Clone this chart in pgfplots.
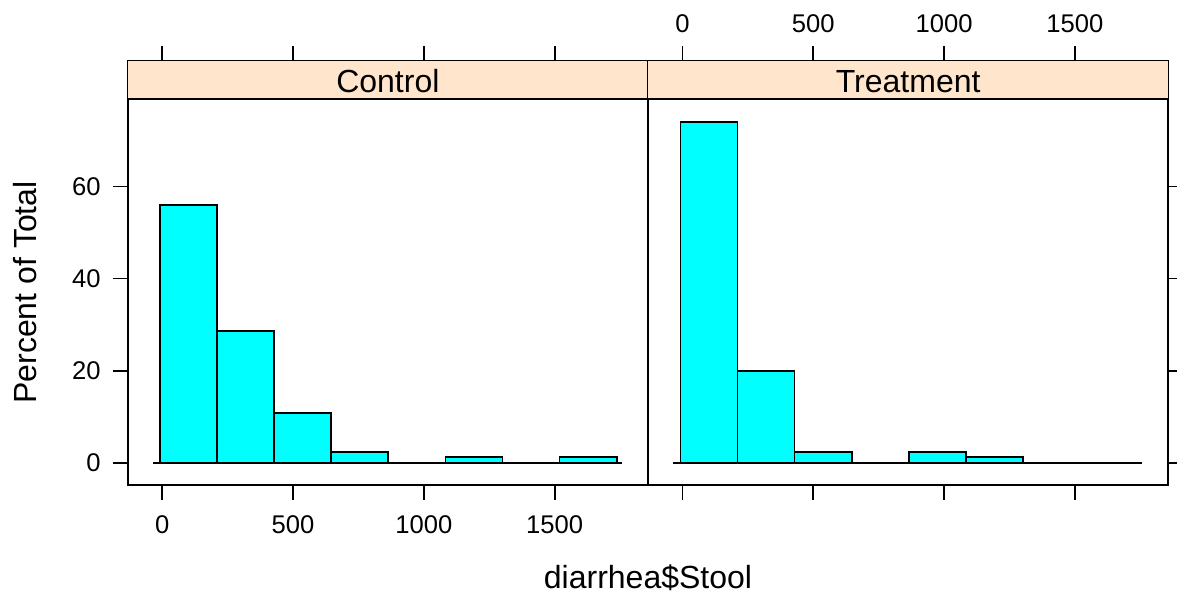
\documentclass[border=0pt]{standalone}
\usepackage{fontspec}
\setmainfont{Liberation Sans}
\usepackage{pgfplots}
\pgfplotsset{compat=1.18}
\definecolor{stripbg}{HTML}{FFE5CC}
\definecolor{barfill}{HTML}{00FFFF}
\pgfplotsset{
  panel/.style={
    scale only axis,
    width=260.15pt, height=212pt,
    xmin=-132, xmax=1857, ymin=-4.86, ymax=87.3,
    axis line style={line width=0.9pt, black},
    tick align=outside,
    major tick length=7.5pt,
    major tick style={line width=0.9pt, black},
    xtick={0,500,1000,1500},
    ytick={0,20,40,60},
    xtick pos=both,
    /pgf/number format/assume math mode=true,
    /pgf/number format/1000 sep={},
    tick label style={font=\fontsize{12.8}{15}\selectfont},
    clip=false,
  },
}
\begin{document}
\begin{tikzpicture}
\useasboundingbox (0,0) rectangle (588.5pt,298.5pt);
% Control panel
\begin{axis}[panel, at={(63.85pt,56pt)}, anchor=south west,
  xticklabel pos=left, ytick pos=left,
  xticklabel style={yshift=-4.5pt}, yticklabel style={xshift=-2.5pt}]
  \fill[stripbg] (axis cs:-132,79) rectangle (axis cs:1857,87.3);
  \draw[line width=0.9pt] (axis cs:-132,79) -- (axis cs:1857,79);
  \node[font=\fontsize{16}{19}\selectfont] at (axis cs:862.5,82.9) {Control};
  \addplot[black, line width=0.9pt] coordinates {(-35,0) (1758,0)};
  \addplot[ybar interval, fill=barfill, draw=black, line width=0.9pt] coordinates {
    (-8,55.95) (210.1,28.57) (428.3,10.71) (646.4,2.38) (864.5,0)
    (1082.6,1.19) (1300.8,0) (1518.9,1.19) (1737,0)};
\end{axis}
% Treatment panel
\begin{axis}[panel, at={(324pt,56pt)}, anchor=south west,
  xticklabel pos=right, ytick pos=right, yticklabels={},
  xticklabel style={yshift=3pt}]
  \fill[stripbg] (axis cs:-132,79) rectangle (axis cs:1857,87.3);
  \draw[line width=0.9pt] (axis cs:-132,79) -- (axis cs:1857,79);
  \node[font=\fontsize{16}{19}\selectfont] at (axis cs:862.5,82.9) {Treatment};
  \addplot[black, line width=0.9pt] coordinates {(-35,0) (1758,0)};
  \addplot[ybar interval, fill=barfill, draw=black, line width=0.9pt] coordinates {
    (-8,74.12) (210.1,20.0) (428.3,2.35) (646.4,0) (864.5,2.35)
    (1082.6,1.18) (1300.8,0) (1518.9,0) (1737,0)};
\end{axis}
\node[font=\fontsize{16}{19}\selectfont] at (324pt,9.5pt) {diarrhea\$Stool};
\node[font=\fontsize{16}{19}\selectfont, rotate=90] at (12.5pt,152.25pt) {Percent of Total};
\end{tikzpicture}
\end{document}
